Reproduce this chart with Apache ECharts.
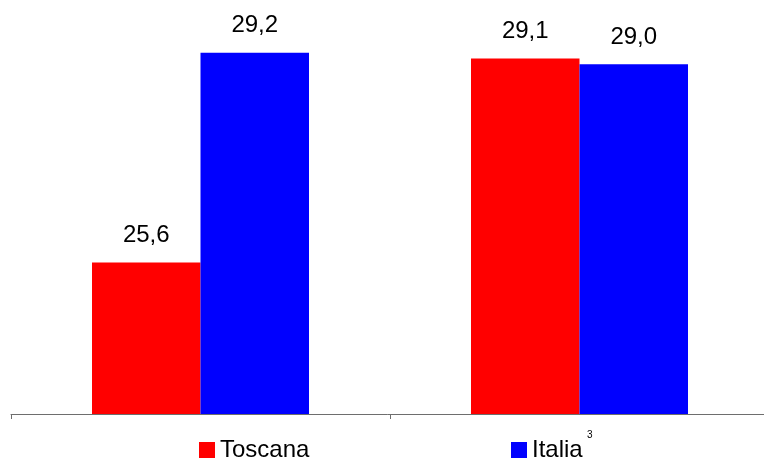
<!DOCTYPE html>
<html>
<head>
<meta charset="utf-8">
<style>
  html, body { margin: 0; padding: 0; background: #ffffff; }
  #chart { width: 764px; height: 459px; }
</style>
<script src="https://cdn.jsdelivr.net/npm/echarts@6/dist/echarts.min.js"></script>
</head>
<body>
<div id="chart"></div>
<script>
// Two groups, each comparing Toscana with Italia
const categories = ['A', 'B'];
const toscana = [25.6, 29.1];
const italia = [29.2, 29.0];
const seriesNames = ['Toscana', 'Italia'];

const fmt = v => v.toFixed(1).replace('.', ',');

const chart = echarts.init(document.getElementById('chart'));
const labelStyle = {
  show: true,
  position: 'top',
  distance: 15,
  fontFamily: 'Liberation Sans, Arial, sans-serif',
  fontSize: 24,
  color: '#000000',
  formatter: p => fmt(p.value)
};
const legendText = { fontFamily: 'Liberation Sans, Arial, sans-serif', fontSize: 24, color: '#000000', padding: [0, 0, 0, 0] };

chart.setOption({
  animation: false,
  grid: { left: 11, right: -5, top: 6, bottom: 45, outerBoundsMode: 'none' },
  legend: [
    {
      data: [seriesNames[0]], left: 194, top: 433,
      itemWidth: 16, itemHeight: 16, itemGap: 5, icon: 'rect',
      textStyle: legendText
    },
    {
      data: [seriesNames[1]], left: 506, top: 433,
      itemWidth: 16, itemHeight: 16, itemGap: 5, icon: 'rect',
      textStyle: legendText
    }
  ],
  xAxis: {
    type: 'category',
    data: categories,
    axisLine: { lineStyle: { color: '#6e6e6e', width: 1 } },
    axisTick: { show: true, length: 5, lineStyle: { color: '#6e6e6e' } },
    axisLabel: { show: false }
  },
  yAxis: {
    type: 'value',
    min: 23,
    max: 30,
    show: false
  },
  graphic: [
    {
      type: 'text', left: 587, top: 430,
      style: { text: '3', fontSize: 10, fontFamily: 'Liberation Sans, Arial, sans-serif', fill: '#000000' }
    }
  ],
  series: [
    {
      name: seriesNames[0], type: 'bar', data: toscana,
      barGap: '0%', barWidth: 108.5,
      itemStyle: { color: '#ff0000' },
      label: labelStyle
    },
    {
      name: seriesNames[1], type: 'bar', data: italia,
      barWidth: 108.5,
      itemStyle: { color: '#0000ff' },
      label: labelStyle
    }
  ]
});
</script>
</body>
</html>
